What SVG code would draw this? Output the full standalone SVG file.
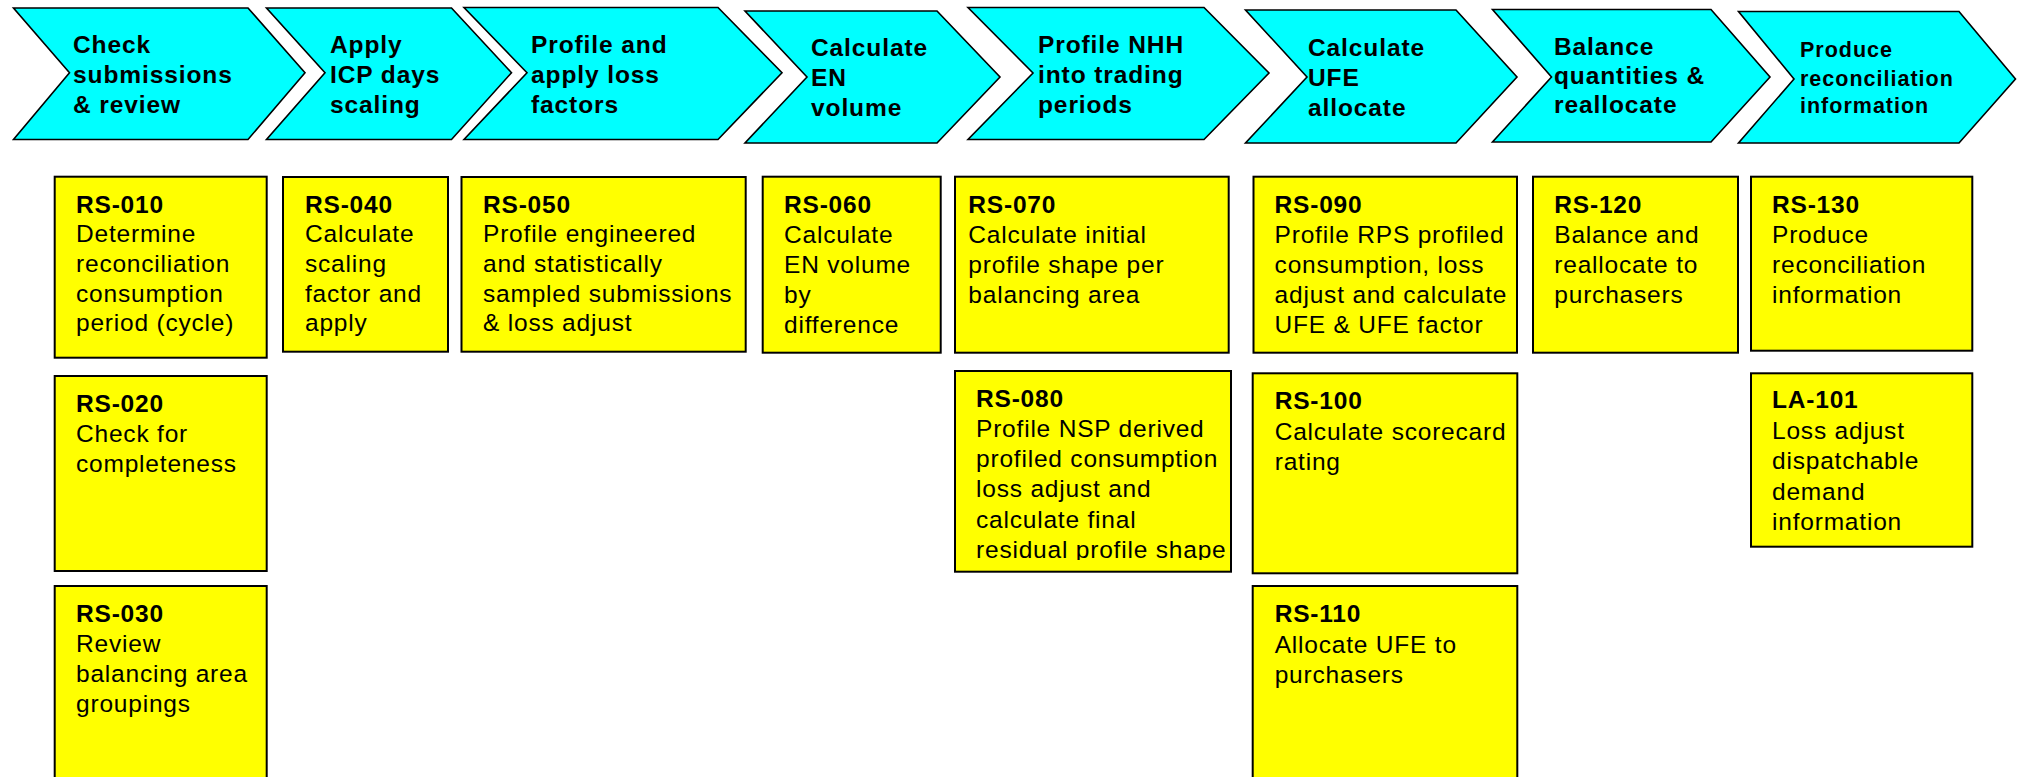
<svg xmlns="http://www.w3.org/2000/svg" width="2017" height="777" viewBox="0 0 2017 777">
<style>
.chev{fill:#00FFFF;stroke:#000;stroke-width:1.6;stroke-linejoin:miter}
.box{fill:#FFFF00;stroke:#000;stroke-width:2}
.ct{font-family:"Liberation Sans",Arial,sans-serif;font-weight:bold;font-size:24.5px;letter-spacing:0.9px;fill:#000}
.cts{font-family:"Liberation Sans",Arial,sans-serif;font-weight:bold;font-size:21.5px;letter-spacing:1px;fill:#000}
.bt{font-family:"Liberation Sans",Arial,sans-serif;font-size:24.5px;letter-spacing:0.8px;fill:#000}
.bt .h{font-weight:bold}
</style>
<defs>
<clipPath id="clip080"><rect x="955" y="371" width="276" height="189"/></clipPath>
</defs>
<rect x="0" y="0" width="2017" height="777" fill="#fff"/>

<g id="step1">
<polygon class="chev" points="13.5,8 248,8 305,72.7 248,139.5 13.5,139.5 69.5,72.7"/>
<text class="ct"><tspan x="73" y="53.3">Check</tspan><tspan x="73" y="82.7">submissions</tspan><tspan x="73" y="113.3">&amp; review</tspan></text>
</g>
<g id="step2">
<polygon class="chev" points="266.5,8 451.5,8 511.5,72.7 451.5,139.5 266.5,139.5 325,72.7"/>
<text class="ct"><tspan x="330" y="53.3">Apply</tspan><tspan x="330" y="82.7">ICP days</tspan><tspan x="330" y="113.3">scaling</tspan></text>
</g>
<g id="step3">
<polygon class="chev" points="464,7.5 718,7.5 782,72.7 718,139.5 464,139.5 527,72.7"/>
<text class="ct"><tspan x="531" y="53">Profile and</tspan><tspan x="531" y="82.5">apply loss</tspan><tspan x="531" y="113">factors</tspan></text>
</g>
<g id="step4">
<polygon class="chev" points="745,11 937,11 1000,77 937,143 745,143 807,77"/>
<text class="ct"><tspan x="811" y="56">Calculate</tspan><tspan x="811" y="86">EN</tspan><tspan x="811" y="116">volume</tspan></text>
</g>
<g id="step5">
<polygon class="chev" points="968,7.5 1204,7.5 1269,73 1204,139.5 968,139.5 1033,73"/>
<text class="ct"><tspan x="1038" y="52.5">Profile NHH</tspan><tspan x="1038" y="82.5">into trading</tspan><tspan x="1038" y="112.5">periods</tspan></text>
</g>
<g id="step6">
<polygon class="chev" points="1245.5,10 1456,10 1517,77 1456,143 1245.5,143 1307,77"/>
<text class="ct"><tspan x="1308" y="56">Calculate</tspan><tspan x="1308" y="86">UFE</tspan><tspan x="1308" y="116">allocate</tspan></text>
</g>
<g id="step7">
<polygon class="chev" points="1492.5,9.5 1711,9.5 1770,77 1711,142 1492.5,142 1551.5,77"/>
<text class="ct"><tspan x="1554" y="55">Balance</tspan><tspan x="1554" y="84">quantities &amp;</tspan><tspan x="1554" y="113">reallocate</tspan></text>
</g>
<g id="step8">
<polygon class="chev" points="1738.5,11.5 1959,11.5 2015.5,79 1959,143 1738.5,143 1794,79"/>
<text class="cts"><tspan x="1800" y="57.3">Produce</tspan><tspan x="1800" y="86">reconciliation</tspan><tspan x="1800" y="113.3">information</tspan></text>
</g>

<g id="RS-010">
<rect class="box" x="54.7" y="176.7" width="212" height="181"/>
<text class="bt"><tspan class="h" x="76" y="212.7">RS-010</tspan><tspan x="76" y="242.3">Determine</tspan><tspan x="76" y="271.9">reconciliation</tspan><tspan x="76" y="301.5">consumption</tspan><tspan x="76" y="331.1">period (cycle)</tspan></text>
</g>
<g id="RS-020">
<rect class="box" x="54.7" y="376" width="212" height="195"/>
<text class="bt"><tspan class="h" x="76" y="411.7">RS-020</tspan><tspan x="76" y="442.3">Check for</tspan><tspan x="76" y="471.9">completeness</tspan></text>
</g>
<g id="RS-030">
<rect class="box" x="54.7" y="586" width="212" height="210"/>
<text class="bt"><tspan class="h" x="76" y="621.7">RS-030</tspan><tspan x="76" y="652.3">Review</tspan><tspan x="76" y="681.9">balancing area</tspan><tspan x="76" y="711.5">groupings</tspan></text>
</g>
<g id="RS-040">
<rect class="box" x="283" y="177" width="165" height="174.7"/>
<text class="bt"><tspan class="h" x="305" y="212.7">RS-040</tspan><tspan x="305" y="242.3">Calculate</tspan><tspan x="305" y="271.9">scaling</tspan><tspan x="305" y="301.5">factor and</tspan><tspan x="305" y="331.1">apply</tspan></text>
</g>
<g id="RS-050">
<rect class="box" x="461.5" y="177" width="284.2" height="174.7"/>
<text class="bt"><tspan class="h" x="483" y="212.7">RS-050</tspan><tspan x="483" y="242.3">Profile engineered</tspan><tspan x="483" y="271.9">and statistically</tspan><tspan x="483" y="301.5">sampled submissions</tspan><tspan x="483" y="331.1">&amp; loss adjust</tspan></text>
</g>
<g id="RS-060">
<rect class="box" x="762.7" y="176.7" width="178" height="176"/>
<text class="bt"><tspan class="h" x="784" y="212.7">RS-060</tspan><tspan x="784" y="242.5">Calculate</tspan><tspan x="784" y="272.5">EN volume</tspan><tspan x="784" y="302.5">by</tspan><tspan x="784" y="332.5">difference</tspan></text>
</g>
<g id="RS-070">
<rect class="box" x="955" y="176.7" width="273.7" height="176"/>
<text class="bt"><tspan class="h" x="968.3" y="212.7">RS-070</tspan><tspan x="968.3" y="242.5">Calculate initial</tspan><tspan x="968.3" y="272.5">profile shape per</tspan><tspan x="968.3" y="302.5">balancing area</tspan></text>
</g>
<g id="RS-080">
<rect class="box" x="955" y="371" width="276" height="200.7"/>
<text class="bt" clip-path="url(#clip080)"><tspan class="h" x="976" y="406.7">RS-080</tspan><tspan x="976" y="436.9">Profile NSP derived</tspan><tspan x="976" y="467.1">profiled consumption</tspan><tspan x="976" y="497.3">loss adjust and</tspan><tspan x="976" y="527.5">calculate final</tspan><tspan x="976" y="557.7">residual profile shape</tspan></text>
</g>
<g id="RS-090">
<rect class="box" x="1253.5" y="176.7" width="263.5" height="176"/>
<text class="bt"><tspan class="h" x="1274.6" y="212.7">RS-090</tspan><tspan x="1274.6" y="242.5">Profile RPS profiled</tspan><tspan x="1274.6" y="272.5">consumption, loss</tspan><tspan x="1274.6" y="302.5">adjust and calculate</tspan><tspan x="1274.6" y="332.5">UFE &amp; UFE factor</tspan></text>
</g>
<g id="RS-100">
<rect class="box" x="1252.7" y="373.3" width="264.6" height="200"/>
<text class="bt"><tspan class="h" x="1274.7" y="409">RS-100</tspan><tspan x="1274.7" y="439.5">Calculate scorecard</tspan><tspan x="1274.7" y="469.5">rating</tspan></text>
</g>
<g id="RS-110">
<rect class="box" x="1252.7" y="586" width="264.6" height="210"/>
<text class="bt"><tspan class="h" x="1274.7" y="621.7">RS-110</tspan><tspan x="1274.7" y="652.5">Allocate UFE to</tspan><tspan x="1274.7" y="682.5">purchasers</tspan></text>
</g>
<g id="RS-120">
<rect class="box" x="1533" y="176.7" width="205" height="176"/>
<text class="bt"><tspan class="h" x="1554.3" y="212.7">RS-120</tspan><tspan x="1554.3" y="242.5">Balance and</tspan><tspan x="1554.3" y="272.5">reallocate to</tspan><tspan x="1554.3" y="302.5">purchasers</tspan></text>
</g>
<g id="RS-130">
<rect class="box" x="1751" y="176.7" width="221.3" height="174"/>
<text class="bt"><tspan class="h" x="1772" y="212.7">RS-130</tspan><tspan x="1772" y="242.5">Produce</tspan><tspan x="1772" y="272.5">reconciliation</tspan><tspan x="1772" y="302.5">information</tspan></text>
</g>
<g id="LA-101">
<rect class="box" x="1751" y="373.3" width="221.3" height="173.4"/>
<text class="bt"><tspan class="h" x="1772" y="408.3">LA-101</tspan><tspan x="1772" y="438.9">Loss adjust</tspan><tspan x="1772" y="469.3">dispatchable</tspan><tspan x="1772" y="499.7">demand</tspan><tspan x="1772" y="530.1">information</tspan></text>
</g>

<g id="connectors"/>
</svg>
